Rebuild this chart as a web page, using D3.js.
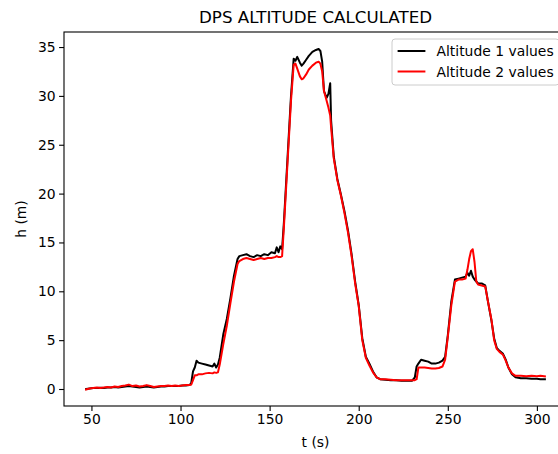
<!DOCTYPE html>
<html>
<head>
<meta charset="utf-8">
<script src="https://cdn.jsdelivr.net/npm/d3@7"></script>
<style>
  html, body { margin: 0; padding: 0; background: #fff; }
  svg { display: block; }
  text { font-family: "DejaVu Sans", sans-serif; fill: #000; }
</style>
</head>
<body>
<svg id="chart" width="558" height="454"></svg>
<script>
// Sample times (s)
const times = [
  47, 49, 51, 53, 55, 57, 59, 61, 63, 65, 67, 69, 71, 73, 75, 77, 79, 81, 83, 85,
  87, 89, 91, 93, 95, 97, 99, 101, 103, 105, 106, 107, 108, 109, 110, 112, 114, 116, 118, 119,
  120, 121, 122, 124, 126, 128, 130, 132, 133, 135, 137, 139, 141, 143, 145, 147, 149, 151, 153, 154,
  155, 156, 157, 158, 160, 162, 163.5, 164.5, 165.5, 167, 168, 169, 170.5, 172, 174, 176, 177.5, 178.5, 179.5, 180.5,
  182, 183, 184, 184.5, 186, 188, 190, 192, 194, 196, 198, 200, 202, 204, 206, 208, 210, 212, 215, 218,
  221, 224, 227, 230, 231.5, 232.5, 233.5, 235, 237, 239, 241, 243, 245, 247, 248.5, 250, 252, 254, 256, 258,
  260, 261, 262, 263, 264, 265, 266, 267, 269, 271, 272.5, 274.5, 276, 277.5, 279, 281, 282.5, 284, 286, 288,
  291, 294, 297, 300, 302, 304.5
];

// Altitude from the first method (m)
const altitude1 = [
  0.0, 0.05, 0.1, 0.1, 0.12, 0.1, 0.15, 0.15, 0.2, 0.15, 0.2, 0.25, 0.3, 0.25, 0.2, 0.15, 0.2, 0.25, 0.2, 0.15,
  0.2, 0.25, 0.25, 0.3, 0.3, 0.3, 0.3, 0.35, 0.35, 0.4, 0.6, 1.8, 2.2, 2.9, 2.7, 2.6, 2.5, 2.4, 2.3, 2.6,
  2.2, 2.5, 3.2, 5.6, 7.2, 9.3, 11.6, 13.3, 13.6, 13.7, 13.8, 13.6, 13.5, 13.7, 13.6, 13.8, 13.7, 14.0, 13.9, 14.5,
  14.0, 14.6, 14.3, 17.0, 23.5, 30.0, 33.8, 33.6, 34.0, 33.4, 33.1, 33.3, 33.7, 34.1, 34.5, 34.7, 34.8, 34.6, 33.5, 30.5,
  29.8, 30.2, 31.3, 27.5, 23.8, 21.5, 19.9, 18.2, 16.2, 13.8, 11.0, 8.6, 5.2, 3.3, 2.6, 1.8, 1.2, 1.0, 0.95, 0.9,
  0.9, 0.85, 0.85, 0.85, 1.2, 2.3, 2.6, 3.0, 2.9, 2.8, 2.6, 2.6, 2.7, 2.9, 3.3, 5.5, 9.0, 11.2, 11.3, 11.4,
  11.5, 11.9, 11.6, 12.1, 11.5, 11.2, 11.0, 10.8, 10.8, 10.6, 9.0, 7.0, 5.2, 4.2, 3.9, 3.6, 3.0, 2.2, 1.5, 1.2,
  1.1, 1.1, 1.05, 1.05, 1.0, 1.0
];

// Altitude from the second method (m)
const altitude2 = [
  -0.05, 0.05, 0.1, 0.15, 0.1, 0.15, 0.2, 0.15, 0.25, 0.2, 0.3, 0.35, 0.45, 0.3, 0.35, 0.25, 0.3, 0.4, 0.3, 0.2,
  0.25, 0.3, 0.3, 0.35, 0.3, 0.35, 0.3, 0.35, 0.4, 0.4, 0.45, 0.9, 1.4, 1.4, 1.5, 1.5, 1.6, 1.65, 1.6, 1.7,
  1.65, 1.7, 2.5, 4.6, 6.5, 8.8, 11.0, 12.8, 13.1, 13.3, 13.4, 13.3, 13.2, 13.3, 13.4, 13.3, 13.4, 13.4, 13.5, 13.6,
  13.5, 13.5, 13.6, 16.5, 23.0, 29.5, 33.2, 33.3, 32.8, 32.0, 31.7, 31.8, 32.2, 32.7, 33.1, 33.4, 33.5, 33.3, 32.5, 30.5,
  29.5, 28.8, 28.0, 26.8, 23.6, 21.4, 19.8, 18.0, 16.0, 13.6, 10.8, 8.5, 5.0, 3.2, 2.4, 1.7, 1.2, 1.0, 1.0, 0.95,
  0.9, 0.9, 0.9, 0.9, 0.9, 1.0, 2.2, 2.2, 2.2, 2.15, 2.1, 2.1, 2.15, 2.3, 3.0, 5.3, 8.6, 11.0, 11.2, 11.2,
  11.3, 12.2, 13.3, 14.1, 14.3, 13.0, 11.0, 10.7, 10.6, 10.5, 9.0, 7.1, 5.0, 4.1, 3.8, 3.5, 2.9, 2.2, 1.6, 1.35,
  1.35, 1.3, 1.35, 1.3, 1.35, 1.3
];

const xTicks = [50, 100, 150, 200, 250, 300];
const yTicks = [0, 5, 10, 15, 20, 25, 30, 35];
const seriesNames = ["Altitude 1 values", "Altitude 2 values"];
const seriesColors = ["#000000", "#ff0000"];

// Plot area
const plot = { left: 64, right: 567, top: 32, bottom: 406 };

const x = d3.scaleLinear().domain([34.6, 316.9]).range([plot.left, plot.right]);
const y = d3.scaleLinear().domain([-1.74, 36.54]).range([plot.bottom, plot.top]);

const svg = d3.select("#chart");

// Lines
const line = d3.line().x(d => x(d[0])).y(d => y(d[1]));
const series = [altitude1, altitude2].map(vals => times.map((t, i) => [t, vals[i]]));

const lineGroup = svg.append("g");
series.forEach((pts, k) => {
  lineGroup.append("path")
    .datum(pts)
    .attr("fill", "none")
    .attr("stroke", seriesColors[k])
    .attr("stroke-width", 2)
    .attr("stroke-linejoin", "round")
    .attr("stroke-linecap", "square")
    .attr("d", line);
});

// Axes
const xAxis = d3.axisBottom(x).tickValues(xTicks).tickSize(4.9).tickPadding(3.5).tickSizeOuter(0);
const yAxis = d3.axisLeft(y).tickValues(yTicks).tickSize(4.9).tickPadding(3.5).tickSizeOuter(0);

const gx = svg.append("g").attr("transform", `translate(0,${plot.bottom})`).call(xAxis);
const gy = svg.append("g").attr("transform", `translate(${plot.left},0)`).call(yAxis);
[gx, gy].forEach(g => {
  g.select(".domain").remove();
  g.selectAll(".tick line").attr("stroke", "#000").attr("stroke-width", 1.1);
  g.selectAll(".tick text").attr("font-size", 13.9).attr("font-family", "DejaVu Sans").attr("fill", "#000");
});

// Frame
svg.append("rect")
  .attr("x", plot.left).attr("y", plot.top)
  .attr("width", plot.right - plot.left).attr("height", plot.bottom - plot.top)
  .attr("fill", "none").attr("stroke", "#000").attr("stroke-width", 1.1);

// Title and axis labels
const cx = (plot.left + plot.right) / 2;
svg.append("text").attr("x", cx).attr("y", 23).attr("text-anchor", "middle")
  .attr("font-size", 16.7).text("DPS ALTITUDE CALCULATED");
svg.append("text").attr("x", cx).attr("y", 447).attr("text-anchor", "middle")
  .attr("font-size", 13.9).text("t (s)");
svg.append("text")
  .attr("transform", `translate(26,${(plot.top + plot.bottom) / 2}) rotate(-90)`)
  .attr("text-anchor", "middle").attr("font-size", 13.9).text("h (m)");

// Legend
const leg = svg.append("g").attr("transform", "translate(392,39)");
leg.append("rect").attr("x", 0).attr("y", 0).attr("width", 167).attr("height", 46)
  .attr("rx", 3).attr("fill", "#fff").attr("fill-opacity", 0.8)
  .attr("stroke", "#cccccc").attr("stroke-width", 1);
seriesNames.forEach((name, i) => {
  const yy = 12 + i * 20.5;
  leg.append("line").attr("x1", 5.6).attr("x2", 33.4).attr("y1", yy).attr("y2", yy)
    .attr("stroke", seriesColors[i]).attr("stroke-width", 2);
  leg.append("text").attr("x", 44.5).attr("y", yy + 5).attr("font-size", 13.9).text(name);
});
</script>
</body>
</html>
